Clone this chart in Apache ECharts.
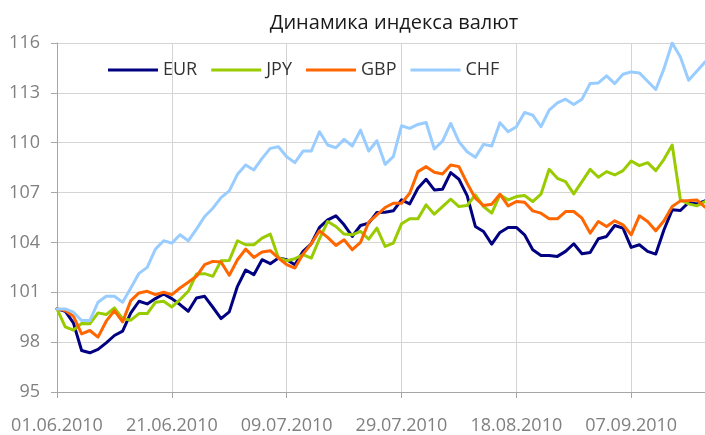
<!DOCTYPE html>
<html>
<head>
<meta charset="utf-8">
<script src="https://cdn.jsdelivr.net/npm/echarts@6/dist/echarts.min.js"></script>
<style>
  html, body { margin: 0; padding: 0; background: #fff; }
  #chart { width: 705px; height: 435px; }
</style>
</head>
<body>
<div id="chart"></div>
<script>
// торговые дни 01.06.2010 - 20.09.2010
const dates = [
  '01.06.2010', '02.06.2010', '03.06.2010', '04.06.2010', '07.06.2010', '08.06.2010', '09.06.2010', '10.06.2010', '11.06.2010', '14.06.2010',
  '15.06.2010', '16.06.2010', '17.06.2010', '18.06.2010', '21.06.2010', '22.06.2010', '23.06.2010', '24.06.2010', '25.06.2010', '28.06.2010',
  '29.06.2010', '30.06.2010', '01.07.2010', '02.07.2010', '05.07.2010', '06.07.2010', '07.07.2010', '08.07.2010', '09.07.2010', '12.07.2010',
  '13.07.2010', '14.07.2010', '15.07.2010', '16.07.2010', '19.07.2010', '20.07.2010', '21.07.2010', '22.07.2010', '23.07.2010', '26.07.2010',
  '27.07.2010', '28.07.2010', '29.07.2010', '30.07.2010', '02.08.2010', '03.08.2010', '04.08.2010', '05.08.2010', '06.08.2010', '09.08.2010',
  '10.08.2010', '11.08.2010', '12.08.2010', '13.08.2010', '16.08.2010', '17.08.2010', '18.08.2010', '19.08.2010', '20.08.2010', '23.08.2010',
  '24.08.2010', '25.08.2010', '26.08.2010', '27.08.2010', '30.08.2010', '31.08.2010', '01.09.2010', '02.09.2010', '03.09.2010', '06.09.2010',
  '07.09.2010', '08.09.2010', '09.09.2010', '10.09.2010', '13.09.2010', '14.09.2010', '15.09.2010', '16.09.2010', '17.09.2010', '20.09.2010'
];

const eur = [
  100.0, 99.86, 99.16, 97.5, 97.36, 97.56, 97.96, 98.4, 98.66, 99.76,
  100.46, 100.3, 100.62, 100.9, 100.62, 100.26, 99.86, 100.66, 100.76, 100.1,
  99.42, 99.82, 101.36, 102.34, 102.06, 102.96, 102.72, 103.06, 102.96, 102.66,
  103.46, 103.92, 104.9, 105.36, 105.6, 105.06, 104.36, 105.02, 105.16, 105.8,
  105.82, 105.9, 106.56, 106.32, 107.26, 107.8, 107.16, 107.2, 108.2, 107.8,
  106.82, 104.96, 104.66, 103.9, 104.6, 104.9, 104.9, 104.46, 103.56, 103.22,
  103.22, 103.16, 103.46, 103.92, 103.32, 103.4, 104.22, 104.36, 105.02, 104.86,
  103.7, 103.86, 103.46, 103.3, 104.76, 105.96, 105.92, 106.4, 106.32, 106.5
];
const jpy = [
  100.0, 98.92, 98.72, 99.12, 99.1, 99.76, 99.66, 100.06, 99.42, 99.32,
  99.72, 99.72, 100.4, 100.46, 100.12, 100.56, 101.06, 102.1, 102.12, 101.96,
  102.9, 102.92, 104.1, 103.86, 103.86, 104.26, 104.5, 103.06, 102.9, 103.02,
  103.26, 103.06, 104.22, 105.26, 104.96, 104.5, 104.46, 104.66, 104.2, 104.86,
  103.76, 103.96, 105.12, 105.42, 105.42, 106.26, 105.7, 106.16, 106.6, 106.16,
  106.22, 106.86, 106.16, 105.76, 106.86, 106.56, 106.76, 106.82, 106.46, 106.9,
  108.4, 107.86, 107.66, 106.92, 107.66, 108.4, 107.92, 108.26, 108.06, 108.32,
  108.9, 108.62, 108.8, 108.32, 109.0, 109.86, 106.56, 106.32, 106.2, 106.46
];
const gbp = [
  100.0, 99.9, 99.56, 98.5, 98.7, 98.3, 99.26, 99.9, 99.22, 100.5,
  100.96, 101.06, 100.86, 101.0, 100.86, 101.26, 101.6, 101.96, 102.66, 102.86,
  102.82, 102.02, 102.96, 103.6, 103.1, 103.42, 103.5, 103.06, 102.66, 102.46,
  103.3, 103.92, 104.7, 104.3, 103.82, 104.16, 103.56, 104.0, 105.22, 105.66,
  106.1, 106.36, 106.36, 106.96, 108.26, 108.56, 108.22, 108.12, 108.66, 108.56,
  107.56, 106.66, 106.22, 106.3, 106.9, 106.2, 106.46, 106.42, 105.9, 105.76,
  105.42, 105.42, 105.86, 105.86, 105.46, 104.56, 105.26, 104.96, 105.3, 105.06,
  104.46, 105.6, 105.26, 104.7, 105.3, 106.16, 106.5, 106.52, 106.56, 106.12
];
const chf = [
  100.0, 100.0, 99.8, 99.3, 99.3, 100.4, 100.76, 100.76, 100.4, 101.26,
  102.14, 102.5, 103.6, 104.1, 103.96, 104.46, 104.1, 104.8, 105.56, 106.06,
  106.7, 107.1, 108.1, 108.66, 108.36, 109.06, 109.66, 109.76, 109.16, 108.8,
  109.5, 109.5, 110.66, 109.86, 109.7, 110.2, 109.8, 110.76, 109.5, 110.12,
  108.7, 109.16, 111.02, 110.86, 111.1, 111.22, 109.62, 110.1, 111.16, 110.06,
  109.46, 109.12, 109.9, 109.8, 111.2, 110.66, 110.96, 111.82, 111.66, 110.96,
  111.96, 112.4, 112.62, 112.3, 112.62, 113.56, 113.6, 114.02, 113.56, 114.12,
  114.26, 114.2, 113.7, 113.2, 114.46, 116.0, 115.16, 113.76, 114.3, 114.86
];

const names = ['EUR', 'JPY', 'GBP', 'CHF'];
const colors = ['#000080', '#99cc00', '#ff6600', '#99ccff'];
const values = [eur, jpy, gbp, chf];

const chart = echarts.init(document.getElementById('chart'), null, { renderer: 'canvas' });

const font = '"Open Sans", "Noto Sans", sans-serif';

chart.setOption({
  animation: false,
  backgroundColor: '#ffffff',
  textStyle: { fontFamily: font },
  title: {
    text: 'Динамика индекса валют',
    left: 389,
    top: 8,
    textAlign: 'center',
    textStyle: { fontFamily: font, fontSize: 20, fontWeight: 'normal', color: '#1a1a1a' }
  },
  legend: {
    data: names,
    icon: 'rect',
    left: 103,
    top: 56,
    itemWidth: 50,
    itemHeight: 3,
    itemGap: 14,
    textStyle: { fontFamily: font, fontSize: 18, color: '#333333' }
  },
  grid: { left: 57, right: 0, top: 43, bottom: 40, containLabel: false },
  xAxis: {
    type: 'category',
    data: dates,
    boundaryGap: false,
    axisLine: { lineStyle: { color: '#a6a6a6', width: 1 } },
    axisTick: { show: true, interval: 13, length: 6, lineStyle: { color: '#a6a6a6' } },
    axisLabel: { interval: 13, margin: 25, fontSize: 18, color: '#808080', fontFamily: font },
    splitLine: { show: true, interval: 13, lineStyle: { color: '#d4d4d4', width: 1 } }
  },
  yAxis: {
    type: 'value',
    min: 95,
    max: 116,
    interval: 3,
    axisLine: { show: true, lineStyle: { color: '#a6a6a6', width: 1 } },
    axisTick: { show: true, length: 6, lineStyle: { color: '#a6a6a6' } },
    axisLabel: { margin: 17, fontSize: 18, color: '#808080', fontFamily: font },
    splitLine: { show: true, lineStyle: { color: '#d4d4d4', width: 1 } }
  },
  series: names.map(function (n, k) {
    return {
      name: n,
      type: 'line',
      data: values[k],
      symbol: 'none',
      color: colors[k],
      lineStyle: { width: 3, color: colors[k], cap: 'round', join: 'round' }
    };
  })
});
</script>
</body>
</html>
